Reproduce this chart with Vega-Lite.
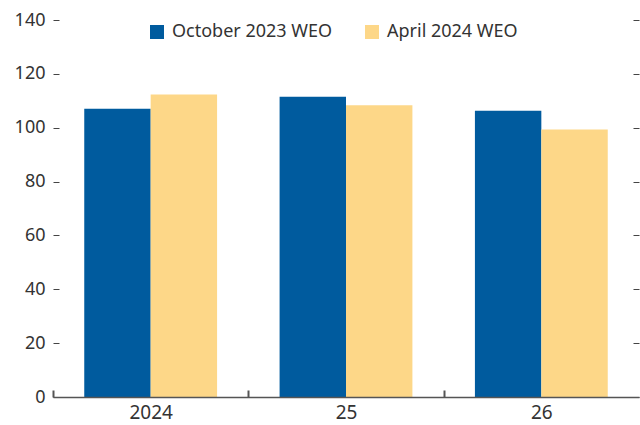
{
  "$schema": "https://vega.github.io/schema/vega-lite/v6.json",
  "width": 586,
  "height": 377,
  "autosize": {"type": "none"},
  "padding": {"left": 53, "top": 20, "right": 1, "bottom": 28},
  "background": "white",
  "config": {
    "view": {"stroke": null},
    "font": "Noto Sans",
    "axis": {"labelFont": "Noto Sans", "labelFontSize": 18, "labelColor": "#333333", "grid": false, "title": null},
    "legend": {"labelFont": "Noto Sans"}
  },
  "data": {
    "values": [
      {"year": "2024", "series": "October 2023 WEO", "value": 107.0},
      {"year": "2024", "series": "April 2024 WEO", "value": 112.3},
      {"year": "25", "series": "October 2023 WEO", "value": 111.5},
      {"year": "25", "series": "April 2024 WEO", "value": 108.3},
      {"year": "26", "series": "October 2023 WEO", "value": 106.3},
      {"year": "26", "series": "April 2024 WEO", "value": 99.3}
    ]
  },
  "layer": [
    {
      "mark": {"type": "bar"},
      "encoding": {
        "x": {
          "field": "year", "type": "nominal", "sort": ["2024", "25", "26"],
          "scale": {"paddingInner": 0.32, "paddingOuter": 0.16},
          "axis": {"title": null, "labelAngle": 0, "ticks": true, "tickOffset": -97.67, "labelOffset": 97.67, "tickSize": -7, "tickColor": "#555555", "tickWidth": 2, "domainColor": "#555555", "domainWidth": 1.5, "labelPadding": 13, "labelFontSize": 19, "zindex": 1}
        },
        "xOffset": {
          "field": "series", "type": "nominal", "sort": ["October 2023 WEO", "April 2024 WEO"],
          "scale": {"paddingInner": 0, "paddingOuter": 0}
        },
        "y": {
          "field": "value", "type": "quantitative",
          "scale": {"domain": [0, 140], "nice": false},
          "axis": {"values": [0, 20, 40, 60, 80, 100, 120, 140], "domain": false, "ticks": true, "tickSize": -6, "tickColor": "#444444", "tickWidth": 1, "labelPadding": 14, "title": null}
        },
        "color": {
          "field": "series", "type": "nominal", "sort": ["October 2023 WEO", "April 2024 WEO"],
          "scale": {"range": ["#005B9E", "#FDD788"]},
          "legend": {
            "title": null, "orient": "none", "direction": "horizontal",
            "legendX": 95, "legendY": 3,
            "symbolType": "square", "symbolSize": 196, "symbolStrokeWidth": 0, "symbolOpacity": 1,
            "labelFontSize": 18, "labelColor": "#333333", "labelOffset": 6, "labelLimit": 400, "columnPadding": 30
          }
        }
      }
    },
    {
      "mark": {"type": "rule", "opacity": 0},
      "encoding": {
        "y": {
          "field": "value", "type": "quantitative",
          "axis": {"orient": "right", "values": [0, 20, 40, 60, 80, 100, 120, 140], "labels": false, "domain": false, "ticks": true, "tickSize": -6, "tickColor": "#444444", "tickWidth": 1, "title": null}
        }
      }
    }
  ],
  "resolve": {"axis": {"y": "independent"}}
}
